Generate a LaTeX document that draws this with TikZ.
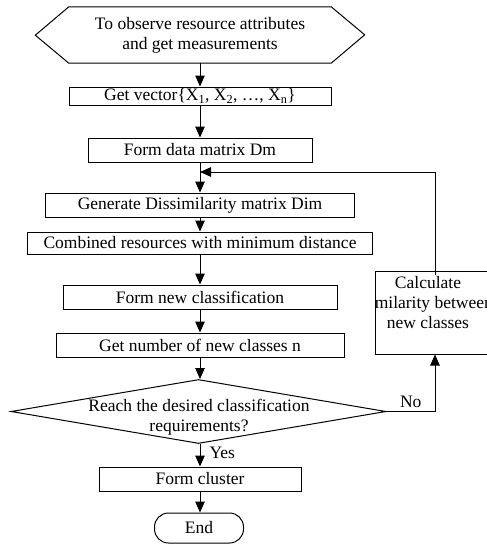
\documentclass[tikz,border=0pt]{standalone}
\usepackage{fontspec}
\setmainfont{Liberation Serif}
\usetikzlibrary{arrows.meta,shapes.geometric,calc}
\begin{document}
\begin{tikzpicture}[x=1pt,y=-1pt,
  every node/.style={font=\fontsize{17.5}{20}\selectfont, inner sep=0pt},
  ln/.style={line width=1pt},
  procbox/.style={draw, ln, minimum height=24pt},
  arr/.style={ln, -{Triangle[length=11pt,width=9.5pt]}}]
% page area
\clip (0,0) rectangle (487,544);

% start: hexagonal preparation symbol
\node[minimum width=262pt, minimum height=56pt, align=center] (start) at (200,35)
  {To observe resource attributes\\and get measurements};
\draw[ln] (start.north west) -- (start.north east) -- ++(33.5,28)
  -- (start.south east) -- (start.south west) -- ++(-33.5,-28) -- cycle;

% main column of process steps
\node[procbox, minimum width=262pt, minimum height=18pt] (vec) at (200,96)
  {Get vector\{X\textsubscript{1}, X\textsubscript{2}, …, X\textsubscript{n}\}};
\node[procbox, minimum width=224pt] (dm) at (200,150) {Form data matrix Dm};
\node[procbox, minimum width=309pt] (dim) at (200,205) {Generate Dissimilarity matrix Dim};
\node[procbox, minimum width=345pt, minimum height=22pt] (comb) at (200,243)
  {Combined resources with minimum distance};
\node[procbox, minimum width=274pt] (newc) at (200,297) {Form new classification};
\node[procbox, minimum width=288pt] (num) at (200,345) {Get number of new classes n};

% decision
\node[diamond, draw, ln, minimum width=375pt, minimum height=64pt] (dec) at (198.5,411.5) {};
\node[align=center] (dectext) at (199,417) {Reach the desired classification\\requirements?};

\node[procbox, minimum width=202pt] (clus) at (200,479) {Form cluster};
\node[draw, ln, rounded corners=14pt, minimum width=89pt, minimum height=30pt] (end) at (199,528) {End};

% side step of the loop (text clipped to its box)
\node[draw, ln, minimum width=116pt, minimum height=83pt] (calc) at (433,312.5) {};
\begin{scope}
  \clip (calc.south west) rectangle (calc.north east);
  \node[align=center] (calctext) at (428,303) {Calculate\\similarity between\\new classes};
\end{scope}

% connectors
\draw[arr] (start.south) -- (vec.north);
\draw[arr] (vec.south) -- (dm.north);
\draw[arr] (dm.south) -- (dim.north);
\draw[arr] (dim.south) -- (comb.north);
\draw[arr] (comb.south) -- (newc.north);
\draw[arr] (newc.south) -- (num.north);
\draw[arr] (num.south) -- (num.south |- dec.north);
\draw[arr] (clus.south |- dec.south) -- (clus.north)
  node[pos=0.4, right=9pt] (yes) {Yes};
\draw[arr] (clus.south) -- (clus.south |- end.north);

% loop back
\coordinate (fb) at (435,172);
\draw[arr] (dec.east) -| (calc.south -| fb)
  node[pos=0.25, above=3pt] (no) {No};
\draw[arr] ($(calc.north -| fb)+(0,4)$) -- (fb) -- (fb -| dm.south);
\end{tikzpicture}
\end{document}
